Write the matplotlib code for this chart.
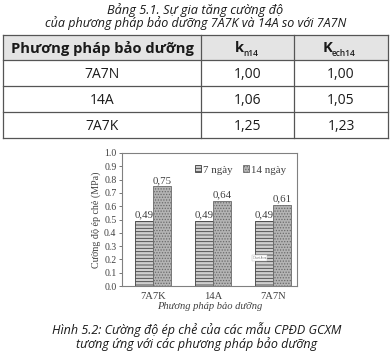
import matplotlib
matplotlib.use("Agg")
import matplotlib.pyplot as plt
from matplotlib.patches import Rectangle
import numpy as np

# ---- data ----
title_lines = ["Bảng 5.1. Sự gia tăng cường độ",
               "của phương pháp bảo dưỡng 7A7K và 14A so với 7A7N"]
table_methods = ["7A7N", "14A", "7A7K"]
table_kn14 = ["1,00", "1,06", "1,25"]
table_kech14 = ["1,00", "1,05", "1,23"]

categories = ["7A7K", "14A", "7A7N"]
strength_7d = [0.49, 0.49, 0.49]
strength_14d = [0.75, 0.64, 0.61]
series_names = ["7 ngày", "14 ngày"]
caption_lines = ["Hình 5.2: Cường độ ép chẻ của các mẫu CPĐD GCXM",
                 "tương ứng với các phương pháp bảo dưỡng"]

W, H = 390, 352
fig = plt.figure(figsize=(W / 100, H / 100), dpi=100)
fig.patch.set_facecolor("white")

bg = fig.add_axes([0, 0, 1, 1])
bg.set_xlim(0, W)
bg.set_ylim(H, 0)
bg.axis("off")

sans = ["Open Sans", "DejaVu Sans"]
tcol = "#1a1a1a"
capw = "medium"

# ---- title ----
bg.text(195, 10, title_lines[0], ha="center", va="center", fontsize=9.2,
        style="italic", fontweight=capw, family=sans, color=tcol)
bg.text(196, 23.5, title_lines[1], ha="center", va="center", fontsize=9.0,
        style="italic", fontweight=capw, family=sans, color=tcol)

# ---- table ----
xs = [3, 201, 294, 388]
ys = [35, 60, 86, 112, 138]
bg.add_patch(Rectangle((xs[0], ys[0]), xs[-1] - xs[0], ys[1] - ys[0],
                       facecolor="#e4e4e4", edgecolor="none", zorder=1))
lc = "#555555"
for y in ys:
    bg.plot([xs[0], xs[-1]], [y, y], color=lc, lw=0.9, zorder=2)
for x in xs:
    bg.plot([x, x], [ys[0], ys[-1]], color=lc, lw=0.9, zorder=2)

cx = [(xs[i] + xs[i + 1]) / 2 for i in range(3)]
hy = (ys[0] + ys[1]) / 2 + 0.5
bg.text(cx[0], hy, "Phương pháp bảo dưỡng", ha="center", va="center",
        fontsize=10.6, fontweight="bold", family=sans, color=tcol, zorder=3)
# k_n14
bg.text(cx[1] - 4, hy, "k", ha="right", va="center", fontsize=10.6,
        fontweight="bold", family=sans, color=tcol, zorder=3)
bg.text(cx[1] - 4, hy + 5, "n14", ha="left", va="center", fontsize=6,
        fontweight="semibold", family=sans, color=tcol, zorder=3)
# K_ech14
bg.text(cx[2] - 9, hy, "K", ha="right", va="center", fontsize=10.6,
        fontweight="bold", family=sans, color=tcol, zorder=3)
bg.text(cx[2] - 9, hy + 5, "ech14", ha="left", va="center", fontsize=6,
        fontweight="semibold", family=sans, color=tcol, zorder=3)

for i in range(3):
    ry = (ys[i + 1] + ys[i + 2]) / 2 + 1
    for j, val in enumerate([table_methods[i], table_kn14[i], table_kech14[i]]):
        bg.text(cx[j], ry, val, ha="center", va="center", fontsize=10,
                family=sans, color=tcol, zorder=3)

# ---- chart ----
plt.rcParams["hatch.linewidth"] = 0.6
serif = ["Liberation Serif", "DejaVu Serif"]
ccol = "#404040"
ax = fig.add_axes([122 / W, 1 - 286 / H, 175 / W, 133 / H])
x = np.arange(len(categories))
bw = 0.3
b1 = ax.bar(x - bw / 2, strength_7d, bw, facecolor="#cfcfcf",
            edgecolor="#3f3f3f", hatch="-----", linewidth=0.6,
            label=series_names[0])
b2 = ax.bar(x + bw / 2, strength_14d, bw, facecolor="#b4b4b4",
            edgecolor="#6a6a6a", hatch="......", linewidth=0.6,
            label=series_names[1])
for bars, vals in [(b1, strength_7d), (b2, strength_14d)]:
    for r, v in zip(bars, vals):
        ax.text(r.get_x() + r.get_width() / 2, v + 0.01,
                f"{v:.2f}".replace(".", ","), ha="center", va="bottom",
                fontsize=7.8, family=serif, color=ccol)

ax.set_xlim(-0.52, 2.4)
ax.set_ylim(0, 1.0)
ax.set_yticks(np.arange(0, 1.01, 0.1))
ax.set_yticklabels([f"{v:.1f}" for v in np.arange(0, 1.01, 0.1)])
ax.set_xticks(x)
ax.set_xticklabels(categories)
ax.tick_params(axis="y", labelsize=7, colors=ccol, length=2.5,
               width=0.5, pad=1.5)
ax.tick_params(axis="x", labelsize=7.6, colors=ccol, length=0, pad=4)
for lab in ax.get_xticklabels() + ax.get_yticklabels():
    lab.set_family(serif)
for s in ax.spines.values():
    s.set_color("#808080")
    s.set_linewidth(0.8)
ax.set_ylabel("Cường độ ép chẻ (MPa)", fontsize=7.2, family=serif,
              color=ccol, labelpad=2)
ax.set_xlabel("Phương pháp bảo dưỡng", fontsize=7.6, family=serif,
              style="italic", color=ccol, labelpad=1)
leg = ax.legend(loc="upper left", bbox_to_anchor=(0.39, 0.94), ncol=2,
                frameon=False, handlelength=0.6,
                handleheight=0.6, handletextpad=0.2, columnspacing=0.9,
                borderaxespad=0, prop={"family": serif, "size": 7.8})
for t in leg.get_texts():
    t.set_color(ccol)

ax.text(1.78, 0.21, "Chart Area", fontsize=1.8, ha="center", va="center",
        color="#777777",
        bbox=dict(boxstyle="square,pad=0.3", facecolor="white",
                  edgecolor="#bbbbbb", linewidth=0.3))

# ---- caption ----
bg.text(197, 330, caption_lines[0], ha="center", va="center", fontsize=9.0,
        style="italic", fontweight=capw, family=sans, color=tcol)
bg.text(197, 344.5, caption_lines[1], ha="center", va="center", fontsize=9.0,
        style="italic", fontweight=capw, family=sans, color=tcol)

fig.savefig("out.png", dpi=100, facecolor="white")
